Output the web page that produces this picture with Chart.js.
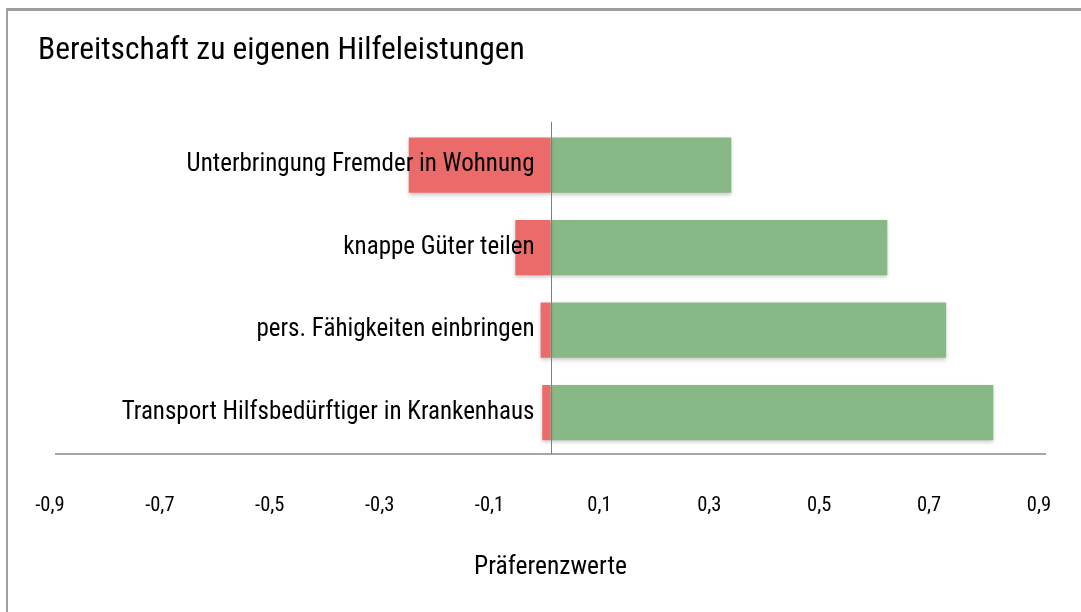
<!DOCTYPE html>
<html>
<head>
<meta charset="utf-8">
<script src="https://cdn.jsdelivr.net/npm/chart.js@4/dist/chart.umd.min.js"></script>
<style>
  body { margin: 0; background: #fff; overflow: hidden; }
  #frame { position: absolute; left: 6px; top: 8px; width: 2000px; height: 2000px;
           border-top: 3px solid #9c9c9c; border-left: 2px solid #a0a0a0; }
  #chart { position: absolute; left: 0; top: 0; }
</style>
</head>
<body>
<div id="frame"></div>
<canvas id="chart" width="1081" height="612"></canvas>
<script>
// Daten
const categories = [
    "Unterbringung Fremder in Wohnung",
    "knappe Güter teilen",
    "pers. Fähigkeiten einbringen",
    "Transport Hilfsbedürftiger in Krankenhaus"
];
const negValues = [-0.258, -0.064, -0.018, -0.015];
const posValues = [0.329, 0.613, 0.72, 0.806];
const tickValues = [-0.9, -0.7, -0.5, -0.3, -0.1, 0.1, 0.3, 0.5, 0.7, 0.9];

const FONT = '"Roboto Condensed", "Open Sans", sans-serif';

// Schatten für Balken, Nulllinie und Kategorienamen
const labelPlugin = {
    id: "labels",
    beforeDatasetsDraw(chart) {
        const ctx = chart.ctx;
        ctx.save();
        ctx.shadowColor = "rgba(0,0,0,0.22)";
        ctx.shadowBlur = 4;
        ctx.shadowOffsetY = 2;
    },
    afterDatasetsDraw(chart) {
        const { ctx, chartArea, scales } = chart;
        ctx.restore();
        const x0 = scales.x.getPixelForValue(0);
        ctx.save();
        ctx.strokeStyle = "#7f7f7f";
        ctx.lineWidth = 1;
        ctx.beginPath();
        ctx.moveTo(Math.round(x0) + 0.5, chartArea.top - 2);
        ctx.lineTo(Math.round(x0) + 0.5, chartArea.bottom);
        ctx.stroke();

        ctx.font = "25px " + FONT;
        ctx.fillStyle = "#000";
        ctx.textAlign = "right";
        ctx.textBaseline = "middle";
        categories.forEach((c, i) => {
            ctx.fillText(c, x0 - 16, scales.y.getPixelForValue(i));
        });
        ctx.restore();
    }
};

new Chart(document.getElementById("chart"), {
    type: "bar",
    data: {
        labels: categories,
        datasets: [
            {
                data: negValues,
                backgroundColor: "#eb6b6b",
                barPercentage: 0.67,
                categoryPercentage: 1
            },
            {
                data: posValues,
                backgroundColor: "#87b886",
                barPercentage: 0.67,
                categoryPercentage: 1
            }
        ]
    },
    options: {
        indexAxis: "y",
        responsive: false,
        animation: false,
        devicePixelRatio: 1,
        layout: { padding: { left: 38, right: 36, top: 0, bottom: 29 } },
        plugins: {
            legend: { display: false },
            tooltip: { enabled: false },
            title: {
                display: true,
                text: "Bereitschaft zu eigenen Hilfeleistungen",
                align: "start",
                color: "#000",
                font: { family: FONT, size: 31.5, weight: "normal" },
                padding: { top: 32, bottom: 54 }
            }
        },
        scales: {
            x: {
                type: "linear",
                min: -0.9,
                max: 0.9,
                stacked: true,
                weight: 0,
                grid: { display: false, drawTicks: false },
                border: { display: true, color: "#a6a6a6", width: 2 },
                ticks: { display: false }
            },
            xl: {
                type: "linear",
                position: "bottom",
                min: -0.889,
                max: 0.911,
                weight: 1,
                grid: { display: false, drawTicks: false },
                border: { display: false },
                afterBuildTicks: s => { s.ticks = tickValues.map(v => ({ value: v })); },
                afterFit: s => { s.paddingLeft = 0; s.paddingRight = 0; },
                ticks: {
                    autoSkip: false,
                    maxRotation: 0,
                    padding: 40,
                    color: "#000",
                    font: { family: FONT, size: 20.5 },
                    callback: v => v.toFixed(1).replace(".", ",")
                },
                title: {
                    display: true,
                    text: "Präferenzwerte",
                    color: "#000",
                    font: { family: FONT, size: 25.5 },
                    padding: { top: -6, bottom: 0 }
                }
            },
            y: {
                stacked: true,
                grid: { display: false },
                border: { display: false },
                ticks: { display: false },
                afterFit: s => { s.width = 18; }
            }
        }
    },
    plugins: [labelPlugin]
});
</script>
</body>
</html>
